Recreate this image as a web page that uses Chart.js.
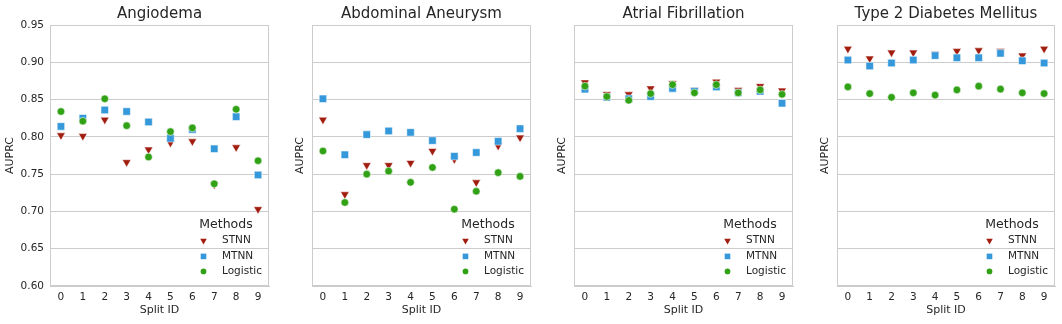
<!DOCTYPE html>
<html>
<head>
<meta charset="utf-8">
<script src="https://cdn.jsdelivr.net/npm/chart.js@4.4.0/dist/chart.umd.min.js"></script>
<style>
  html, body { margin: 0; padding: 0; background: #fff; }
  #wrap { position: relative; width: 1062px; height: 324px; overflow: hidden; }
  #wrap canvas { position: absolute; top: 0; }
</style>
</head>
<body>
<div id="wrap">
  <canvas id="c1" width="273" height="324" style="left:0px"></canvas>
  <canvas id="c2" width="245" height="324" style="left:290px"></canvas>
  <canvas id="c3" width="245" height="324" style="left:552px"></canvas>
  <canvas id="c4" width="244" height="324" style="left:815px"></canvas>
</div>
<script>
// split ids on the x axis
const splitIds = ['0', '1', '2', '3', '4', '5', '6', '7', '8', '9'];
const yTicks = [0.60, 0.65, 0.70, 0.75, 0.80, 0.85, 0.90, 0.95];
const methods = ['STNN', 'MTNN', 'Logistic'];

// Angiodema
const angioSTNN = [0.802, 0.801, 0.823, 0.766, 0.783, 0.792, 0.794, 0.736, 0.786, 0.703];
const angioMTNN = [0.814, 0.825, 0.836, 0.834, 0.820, 0.798, 0.810, 0.784, 0.827, 0.749];
const angioLogistic = [0.834, 0.821, 0.851, 0.815, 0.773, 0.807, 0.812, 0.737, 0.837, 0.768];

// Abdominal Aneurysm
const aneuSTNN = [0.823, 0.723, 0.762, 0.762, 0.765, 0.781, 0.770, 0.739, 0.788, 0.799];
const aneuMTNN = [0.851, 0.776, 0.803, 0.808, 0.806, 0.795, 0.774, 0.779, 0.794, 0.811];
const aneuLogistic = [0.781, 0.712, 0.750, 0.754, 0.739, 0.759, 0.703, 0.727, 0.752, 0.747];

// Atrial Fibrillation
const afibSTNN = [0.873, 0.857, 0.857, 0.865, 0.872, 0.863, 0.874, 0.863, 0.868, 0.862];
const afibMTNN = [0.864, 0.853, 0.851, 0.854, 0.865, 0.861, 0.867, 0.859, 0.861, 0.845];
const afibLogistic = [0.868, 0.854, 0.849, 0.858, 0.870, 0.859, 0.870, 0.859, 0.863, 0.857];

// Type 2 Diabetes Mellitus
const t2dmSTNN = [0.918, 0.905, 0.913, 0.913, 0.911, 0.915, 0.916, 0.915, 0.909, 0.918];
const t2dmMTNN = [0.903, 0.895, 0.899, 0.903, 0.909, 0.906, 0.906, 0.912, 0.902, 0.899];
const t2dmLogistic = [0.867, 0.858, 0.853, 0.859, 0.856, 0.863, 0.868, 0.864, 0.859, 0.858];

const FONT = 'DejaVu Sans';
const TEXT = '#262626';
const GRID = '#cccccc';
const colors = ['#a11d0f', '#3498db', '#31a116'];
const styles = [
  { pointStyle: 'triangle', radius: 5, rotation: 180 },
  { pointStyle: 'rect', radius: 5.3, rotation: 0 },
  { pointStyle: 'circle', radius: 3.8, rotation: 0 }
];

// light frame around the plot area
const framePlugin = {
  id: 'frame',
  beforeDatasetsDraw(chart) {
    const a = chart.chartArea;
    const ctx = chart.ctx;
    ctx.save();
    ctx.strokeStyle = GRID;
    ctx.lineWidth = 1;
    ctx.strokeRect(Math.round(a.left) + 0.5, Math.round(a.top) + 0.5,
      Math.round(a.right - a.left) - 1, Math.round(a.bottom - a.top) - 1);
    ctx.restore();
  }
};

// legend drawn inside the lower right corner
const innerLegend = {
  id: 'innerLegend',
  afterDatasetsDraw(chart) {
    const a = chart.chartArea;
    const ctx = chart.ctx;
    ctx.save();
    ctx.fillStyle = TEXT;
    ctx.textAlign = 'center';
    ctx.textBaseline = 'middle';
    ctx.font = '12.5px "' + FONT + '"';
    ctx.fillText('Methods', a.right - 43, a.bottom - 61);
    ctx.font = '10.5px "' + FONT + '"';
    ctx.textAlign = 'left';
    const rows = [45.3, 29.6, 14.6];
    chart.data.datasets.forEach((ds, i) => {
      const y = a.bottom - rows[i];
      const st = styles[i];
      ctx.fillStyle = colors[i];
      ctx.strokeStyle = colors[i];
      Chart.helpers.drawPoint(ctx, {
        pointStyle: st.pointStyle,
        radius: st.radius * 0.75,
        rotation: st.rotation,
        borderWidth: 0
      }, a.right - 65.5, y);
      ctx.fillStyle = TEXT;
      ctx.fillText(ds.label, a.right - 47, y);
    });
    ctx.restore();
  }
};

function makePanel(id, title, stnn, mtnn, logistic, showYTicks) {
  const series = [stnn, mtnn, logistic];
  return new Chart(document.getElementById(id), {
    type: 'line',
    data: {
      labels: splitIds,
      datasets: methods.map((m, i) => ({
        label: m,
        data: series[i],
        showLine: false,
        order: 3 - i,
        pointStyle: styles[i].pointStyle,
        pointRadius: styles[i].radius,
        pointHoverRadius: styles[i].radius,
        pointRotation: styles[i].rotation,
        pointBackgroundColor: colors[i],
        pointBorderColor: 'rgba(255,255,255,0.55)',
        pointBorderWidth: 1
      }))
    },
    plugins: [framePlugin, innerLegend],
    options: {
      responsive: false,
      animation: false,
      events: [],
      layout: { autoPadding: false, padding: { top: 0, right: 4, bottom: 3, left: 0 } },
      plugins: {
        legend: { display: false },
        tooltip: { enabled: false },
        title: {
          display: true,
          text: title,
          fullSize: false,
          color: TEXT,
          font: { family: FONT, size: 15, weight: 'normal' },
          padding: { top: 5, bottom: 2 }
        }
      },
      scales: {
        x: {
          type: 'category',
          offset: true,
          grid: { display: false, drawTicks: false },
          border: { display: true, color: GRID },
          ticks: {
            color: TEXT,
            padding: 5,
            maxRotation: 0,
            font: { family: FONT, size: 10.5 }
          },
          title: {
            display: true,
            text: 'Split ID',
            color: TEXT,
            font: { family: FONT, size: 11 },
            padding: { top: 4, bottom: 4 }
          },
          afterFit(scale) {
            scale.height = 35;
            scale.paddingLeft = 0;
            scale.paddingRight = 0;
          }
        },
        y: {
          min: 0.6,
          max: 0.95,
          grid: { color: GRID, lineWidth: 1, drawTicks: false },
          border: { display: true, color: GRID },
          afterBuildTicks(scale) {
            scale.ticks = yTicks.map(v => ({ value: v }));
          },
          ticks: {
            display: showYTicks,
            color: TEXT,
            padding: 6,
            font: { family: FONT, size: 10.5 },
            callback: v => Number(v).toFixed(2)
          },
          title: {
            display: true,
            text: 'AUPRC',
            color: TEXT,
            font: { family: FONT, size: 11 },
            padding: { top: 4, bottom: 4 }
          },
          afterFit(scale) {
            scale.width = showYTicks ? 50 : 22;
            scale.paddingTop = 0;
            scale.paddingBottom = 0;
          }
        }
      }
    }
  });
}

makePanel('c1', 'Angiodema', angioSTNN, angioMTNN, angioLogistic, true);
makePanel('c2', 'Abdominal Aneurysm', aneuSTNN, aneuMTNN, aneuLogistic, false);
makePanel('c3', 'Atrial Fibrillation', afibSTNN, afibMTNN, afibLogistic, false);
makePanel('c4', 'Type 2 Diabetes Mellitus', t2dmSTNN, t2dmMTNN, t2dmLogistic, false);
</script>
</body>
</html>
